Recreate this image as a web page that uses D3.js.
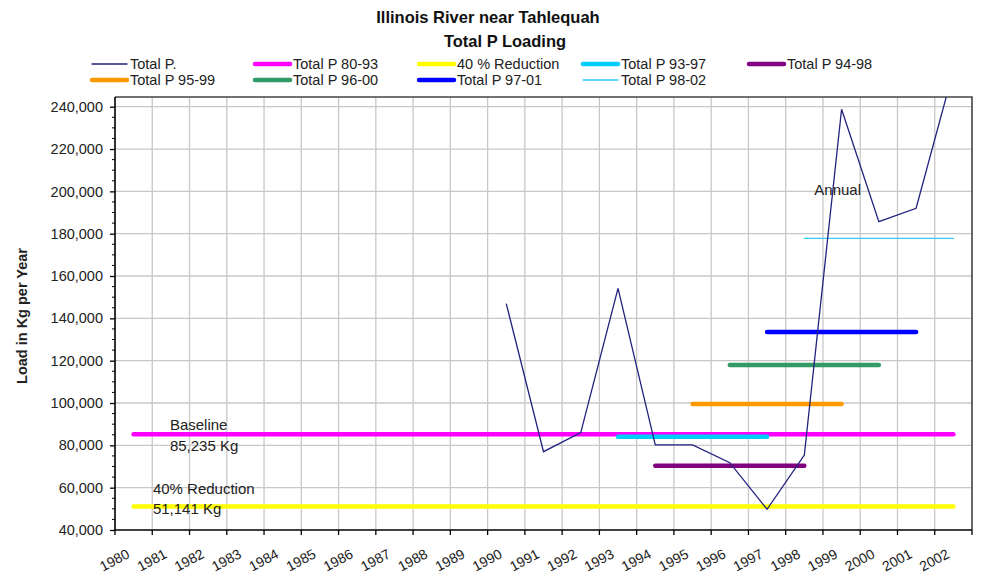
<!DOCTYPE html>
<html>
<head>
<meta charset="utf-8">
<script src="https://cdn.jsdelivr.net/npm/d3@7"></script>
<style>
  body { margin: 0; background: #fff; }
  svg { display: block; font-family: 'Liberation Sans', Arial, sans-serif; }
</style>
</head>
<body>
<svg id="chart"></svg>
<script>
// categories on the x axis
const years = ['1980', '1981', '1982', '1983', '1984', '1985', '1986', '1987', '1988', '1989', '1990', '1991',
               '1992', '1993', '1994', '1995', '1996', '1997', '1998', '1999', '2000', '2001', '2002']

// annual total P load (kg / year)
const annualYears = ['1990', '1991', '1992', '1993', '1994', '1995', '1996', '1997', '1998', '1999', '2000', '2001', '2002']
const annualLoad = [147000, 77000, 86000, 154200, 80200, 80200, 71800, 49800, 75400, 238800, 185700, 192000, 257000]

// period averages, drawn as flat lines
const seriesNames = ['Total P.', 'Total P 80-93', '40 % Reduction', 'Total P 93-97', 'Total P 94-98',
                     'Total P 95-99', 'Total P 96-00', 'Total P 97-01', 'Total P 98-02']
const avgStart = ['1980', '1980', '1993', '1994', '1995', '1996', '1997', '1998']
const avgEnd = ['2002', '2002', '1997', '1998', '1999', '2000', '2001', '2002']
const avgLoad = [85235, 51141, 84000, 70400, 99500, 118000, 133500, 177800]

const yTicks = [40000, 60000, 80000, 100000, 120000, 140000, 160000, 180000, 200000, 220000, 240000]

const notes = [
  { text: 'Annual', year: '1998', value: 198300, dx: 10 },
  { text: 'Baseline', year: '1981', value: 87250, dx: -1 },
  { text: '85,235 Kg', year: '1981', value: 77300, dx: -1 },
  { text: '40% Reduction', year: '1981', value: 57000, dx: -18 },
  { text: '51,141 Kg', year: '1981', value: 47600, dx: -18 }
]

const width = 983
const height = 583
const plotLeft = 115
const plotRight = 972
const plotTop = 97
const plotBottom = 530

const colors = ['#22227f', '#ff00ff', '#ffff00', '#00ccff', '#800080', '#ff9900', '#339966', '#0000ff', '#33ccff']
const strokes = [1.3, 4.5, 4.5, 4.5, 4.5, 4.5, 4.5, 4.5, 1.3]

const svg = d3.select('#chart')
              .attr('width', width)
              .attr('height', height)

const xScale = d3.scaleBand()
                 .domain(years)
                 .range([plotLeft, plotRight])
const xMid = y => xScale(y) + xScale.bandwidth() / 2

const yScale = d3.scaleLinear()
                 .domain([40000, 240000])
                 .range([plotBottom, 106.7])

// grid
const grid = svg.append('g')
grid.selectAll('line.v')
    .data(years.slice(1))
    .join('line')
    .attr('x1', d => xScale(d)).attr('x2', d => xScale(d))
    .attr('y1', plotTop).attr('y2', plotBottom)
    .attr('stroke', '#c8c8c8').attr('stroke-width', 1.3)
grid.selectAll('line.h')
    .data(yTicks.slice(1))
    .join('line')
    .attr('x1', plotLeft).attr('x2', plotRight)
    .attr('y1', d => yScale(d)).attr('y2', d => yScale(d))
    .attr('stroke', '#c8c8c8').attr('stroke-width', 1.3)

// frame: top and right
svg.append('path')
   .attr('d', `M${plotLeft},${plotTop}H${plotRight}V${plotBottom}`)
   .attr('fill', 'none')
   .attr('stroke', '#444')
   .attr('stroke-width', 1.6)

svg.append('clipPath').attr('id', 'plot-clip')
   .append('rect')
   .attr('x', plotLeft).attr('y', plotTop)
   .attr('width', plotRight - plotLeft).attr('height', plotBottom - plotTop)

const marks = svg.append('g').attr('clip-path', 'url(#plot-clip)')

// period averages
avgLoad.forEach((v, i) => {
  marks.append('line')
       .attr('x1', xMid(avgStart[i]))
       .attr('x2', xMid(avgEnd[i]))
       .attr('y1', yScale(v))
       .attr('y2', yScale(v))
       .attr('stroke', colors[i + 1])
       .attr('stroke-width', strokes[i + 1])
       .attr('stroke-linecap', 'round')
})

// annual line
const line = d3.line()
               .x((d, i) => xMid(annualYears[i]))
               .y(d => yScale(d))
marks.append('path')
     .datum(annualLoad)
     .attr('d', line)
     .attr('fill', 'none')
     .attr('stroke', colors[0])
     .attr('stroke-width', strokes[0])

// notes
svg.selectAll('text.note')
   .data(notes)
   .join('text')
   .classed('note', true)
   .attr('x', d => xMid(d.year) + d.dx)
   .attr('y', d => yScale(d.value))
   .attr('font-size', 15)
   .attr('fill', '#222')
   .text(d => d.text)

// axes
const yAxis = d3.axisLeft(yScale)
                .tickValues(yTicks)
                .tickSize(5)
                .tickFormat(d3.format(','))
const yAxisG = svg.append('g')
   .attr('transform', `translate(${plotLeft},0)`)
   .call(yAxis)
yAxisG.select('.domain').attr('stroke', '#000').attr('stroke-width', 1.6)
      .attr('d', `M0,${plotTop}V${plotBottom}`)
yAxisG.selectAll('.tick line').attr('stroke', '#000').attr('stroke-width', 1.3)
yAxisG.selectAll('.tick text')
      .attr('font-size', 14.5)
      .attr('font-family', "'Liberation Sans', Arial, sans-serif")
      .attr('fill', '#222')
      .attr('x', -12)

// minor ticks every 5,000
yAxisG.selectAll('line.minor')
      .data(d3.range(45000, 240001, 5000).filter(d => d % 20000 !== 0))
      .join('line')
      .classed('minor', true)
      .attr('x1', -3).attr('x2', 0)
      .attr('y1', d => yScale(d)).attr('y2', d => yScale(d))
      .attr('stroke', '#000')

const xAxisG = svg.append('g')
   .attr('transform', `translate(0,${plotBottom})`)
xAxisG.append('line')
      .attr('x1', plotLeft).attr('x2', plotRight)
      .attr('stroke', '#000').attr('stroke-width', 1.6)
xAxisG.selectAll('line.tick')
      .data(years.concat(['end']))
      .join('line')
      .attr('x1', d => d === 'end' ? plotRight : xScale(d))
      .attr('x2', d => d === 'end' ? plotRight : xScale(d))
      .attr('y1', 0).attr('y2', 5)
      .attr('stroke', '#000').attr('stroke-width', 1.3)
xAxisG.selectAll('text')
      .data(years)
      .join('text')
      .attr('transform', d => `translate(${xMid(d) - 3},27)rotate(-28)`)
      .attr('text-anchor', 'end')
      .attr('font-size', 14)
      .attr('fill', '#222')
      .text(d => d)

svg.append('text')
   .text('Load in Kg per Year')
   .attr('transform', `translate(27,316)rotate(-90)`)
   .attr('text-anchor', 'middle')
   .attr('font-size', 14.5)
   .attr('font-weight', 'bold')
   .attr('fill', '#222')

// title
svg.append('text')
   .text('Illinois River near Tahlequah')
   .attr('x', 488).attr('y', 23)
   .attr('text-anchor', 'middle')
   .attr('font-size', 16.5)
   .attr('font-weight', 'bold')
   .attr('fill', '#111')
svg.append('text')
   .text('Total P Loading')
   .attr('x', 505).attr('y', 47)
   .attr('text-anchor', 'middle')
   .attr('font-size', 16.5)
   .attr('font-weight', 'bold')
   .attr('fill', '#111')

// legend
const legendCols = [90, 253, 417, 581, 747]
const legendRows = [64, 80]
const legend = svg.append('g')
                  .selectAll('g')
                  .data(seriesNames)
                  .join('g')
                  .attr('transform', (d, i) => `translate(${legendCols[i % 5]},${legendRows[Math.floor(i / 5)]})`)
legend.append('line')
      .attr('x1', 2).attr('x2', 37)
      .attr('stroke', (d, i) => colors[i])
      .attr('stroke-width', (d, i) => strokes[i])
      .attr('stroke-linecap', 'round')
legend.append('text')
      .attr('x', 40)
      .attr('dy', '0.35em')
      .attr('font-size', 14.5)
      .attr('fill', '#222')
      .text(d => d)
</script>
</body>
</html>
